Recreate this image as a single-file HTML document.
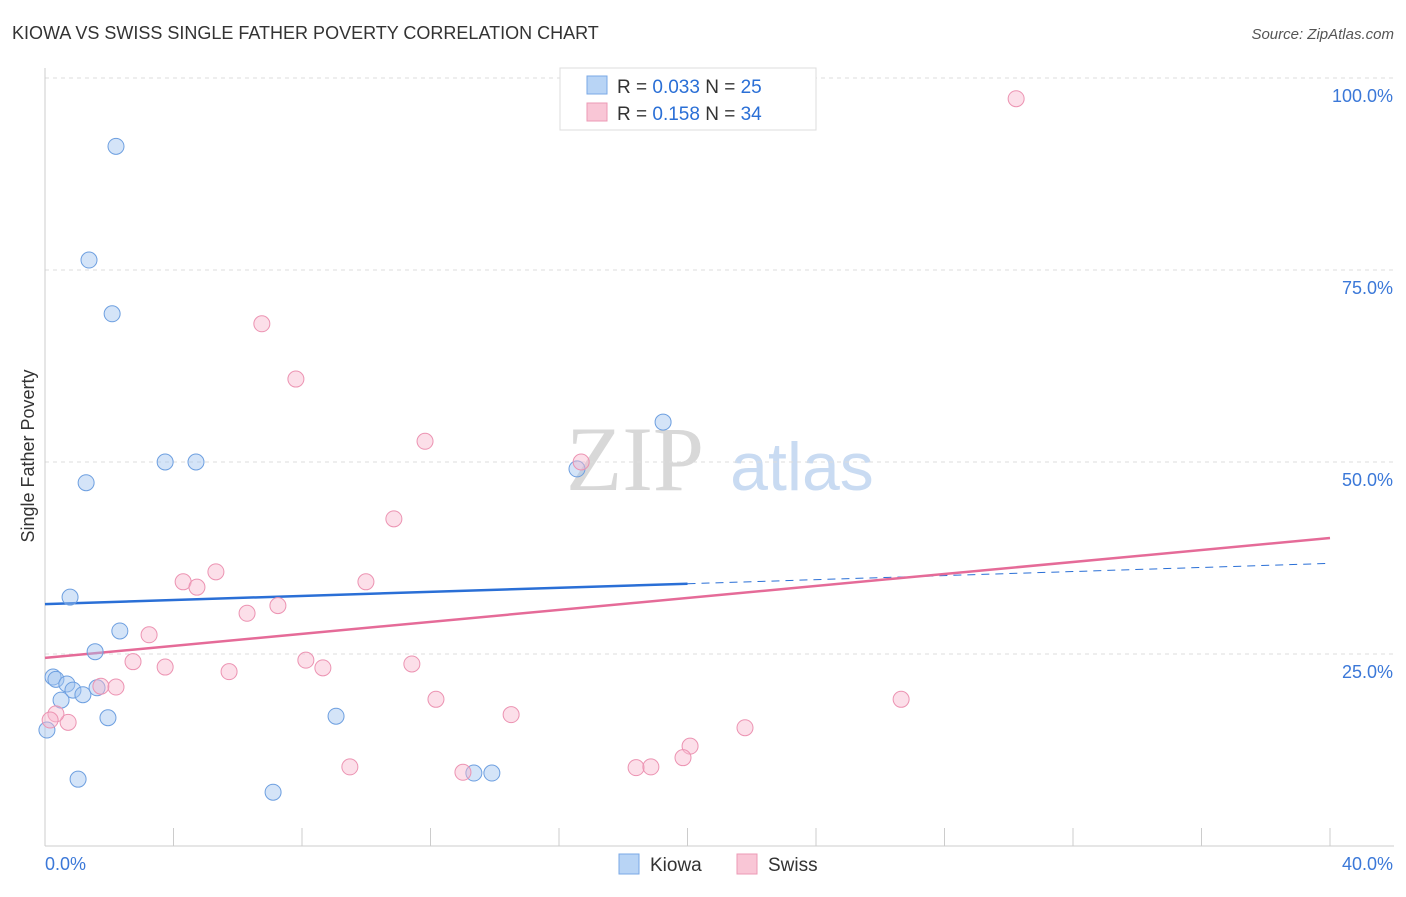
<!DOCTYPE html>
<html><head><meta charset="utf-8"><style>
body{margin:0;background:#fff;font-family:"Liberation Sans",sans-serif;}
svg text{font-family:"Liberation Sans",sans-serif;}
</style></head><body>
<svg id="c" width="1406" height="892">
<text x="12" y="39" font-size="18" fill="#333">KIOWA VS SWISS SINGLE FATHER POVERTY CORRELATION CHART</text>
<text x="1394" y="39" font-size="15" fill="#555" font-style="italic" text-anchor="end">Source: ZipAtlas.com</text>
<text x="34" y="456" font-size="18" fill="#333" transform="rotate(-90 34 456)" text-anchor="middle">Single Father Poverty</text>
<text x="635" y="490" font-size="92" fill="#d8d8d8" font-family="Liberation Serif" text-anchor="middle" style="font-family:'Liberation Serif',serif">ZIP</text>
<text x="802" y="490" font-size="68" fill="#c9dbf2" text-anchor="middle">atlas</text>
<g id="grid"></g><g id="axes"></g><g id="trend"></g><g id="pts"></g>
<g>
<rect x="560" y="68" width="256" height="62" fill="#fff" stroke="#ddd"/>
<rect x="587" y="76" width="20" height="18" fill="#b8d4f5" stroke="#7aa8e6"/>
<text x="617" y="93" font-size="19" fill="#333">R = <tspan fill="#2a6fd6">0.033</tspan>    N = <tspan fill="#2a6fd6">25</tspan></text>
<rect x="587" y="103" width="20" height="18" fill="#f9c6d6" stroke="#ec9ab5"/>
<text x="617" y="120" font-size="19" fill="#333">R =  <tspan fill="#2a6fd6">0.158</tspan>    N = <tspan fill="#2a6fd6">34</tspan></text>
</g>
<g>
<rect x="619" y="854" width="20" height="20" fill="#b8d4f5" stroke="#7aa8e6"/>
<text x="650" y="871" font-size="19" fill="#333">Kiowa</text>
<rect x="737" y="854" width="20" height="20" fill="#f9c6d6" stroke="#ec9ab5"/>
<text x="768" y="871" font-size="19" fill="#333">Swiss</text>
</g>
</svg>
<script>
const kiowaX=[2.21,1.37,2.09,3.74,4.70,1.28,0.78,2.33,1.56,0.25,0.34,0.68,0.87,1.18,1.62,0.50,1.96,0.06,1.03,7.10,9.06,13.35,13.91,16.56,19.24];
const kiowaY=[91.1,76.3,69.3,50.0,50.0,47.3,32.4,28.0,25.3,22.0,21.7,21.1,20.3,19.7,20.6,19.0,16.7,15.1,8.7,7.0,16.9,9.5,9.5,49.1,55.2];
const swissX=[30.23,6.75,7.81,11.83,16.69,10.86,5.32,4.30,4.73,9.99,7.25,6.29,3.24,2.74,3.74,8.12,8.65,11.42,5.73,1.74,2.21,12.17,26.65,14.51,21.79,20.08,19.86,18.40,18.86,13.01,9.49,0.72,0.34,0.16];
const swissY=[97.3,68.0,60.8,52.7,50.0,42.6,35.7,34.4,33.7,34.4,31.3,30.3,27.5,24.0,23.3,24.2,23.2,23.7,22.7,20.8,20.7,19.1,19.1,17.1,15.4,13.0,11.5,10.2,10.3,9.6,10.3,16.1,17.2,16.4];
const kiowaTrend=[31.5,36.8];
const swissTrend=[24.5,40.1];
const kiowaSolidEnd=20.0;
const yTicks=[25,50,75,100];
const yTickLabels=["25.0%","50.0%","75.0%","100.0%"];
const xTicks=[0,4,8,12,16,20,24,28,32,36,40];
const xLabels=[[0,"0.0%"],[40,"40.0%"]];
const NS="http://www.w3.org/2000/svg";
const sx=v=>45+v*(1285/40), sy=v=>846-v*7.68;
function mk(p,t,a){const e=document.createElementNS(NS,t);for(const k in a)e.setAttribute(k,a[k]);document.getElementById(p).appendChild(e);return e;}
yTicks.forEach((t,i)=>{
 const l=mk('grid','line',{x1:45,x2:1394,y1:sy(t),y2:sy(t),stroke:'#ddd','stroke-dasharray':'4,4'});
 
 
 const tx=mk('grid','text',{x:1393,y:sy(t)+24,'font-size':18,fill:'#3b78d8','text-anchor':'end'});tx.textContent=yTickLabels[i];
 
 
});
const ax=mk('axes','line',{x1:45,x2:45,y1:68,y2:846,stroke:'#ccc'});


const bx=mk('axes','line',{x1:45,x2:1394,y1:846,y2:846,stroke:'#ccc'});


xTicks.forEach(t=>{const l=mk('axes','line',{x1:sx(t),x2:sx(t),y1:828,y2:846,stroke:'#ccc'});
 
 });
xLabels.forEach(([v,s])=>{const tx=mk('axes','text',{x:v===0?sx(v):1393,y:870,'font-size':18,fill:'#3b78d8','text-anchor':v===0?'start':'end'});tx.textContent=s;
 
 });
const kv=x=>kiowaTrend[0]+(kiowaTrend[1]-kiowaTrend[0])*x/40;
let t1=mk('trend','line',{x1:sx(0),y1:sy(kv(0)),x2:sx(kiowaSolidEnd),y2:sy(kv(kiowaSolidEnd)),stroke:'#2a6fd6','stroke-width':2.5});


let t2=mk('trend','line',{x1:sx(kiowaSolidEnd),y1:sy(kv(kiowaSolidEnd)),x2:sx(40),y2:sy(kv(40)),stroke:'#2a6fd6','stroke-width':1,'stroke-dasharray':'8,6'});


let t3=mk('trend','line',{x1:sx(0),y1:sy(swissTrend[0]),x2:sx(40),y2:sy(swissTrend[1]),stroke:'#e56b98','stroke-width':2.5});


kiowaX.forEach((x,i)=>{const c=mk('pts','circle',{cx:sx(x),cy:sy(kiowaY[i]),r:8,fill:'rgba(160,196,240,0.45)',stroke:'#6d9fe0','stroke-width':1});
 
 });
swissX.forEach((x,i)=>{const c=mk('pts','circle',{cx:sx(x),cy:sy(swissY[i]),r:8,fill:'rgba(248,185,206,0.45)',stroke:'#ec93b2','stroke-width':1});
 
 });
</script>
</body></html>
